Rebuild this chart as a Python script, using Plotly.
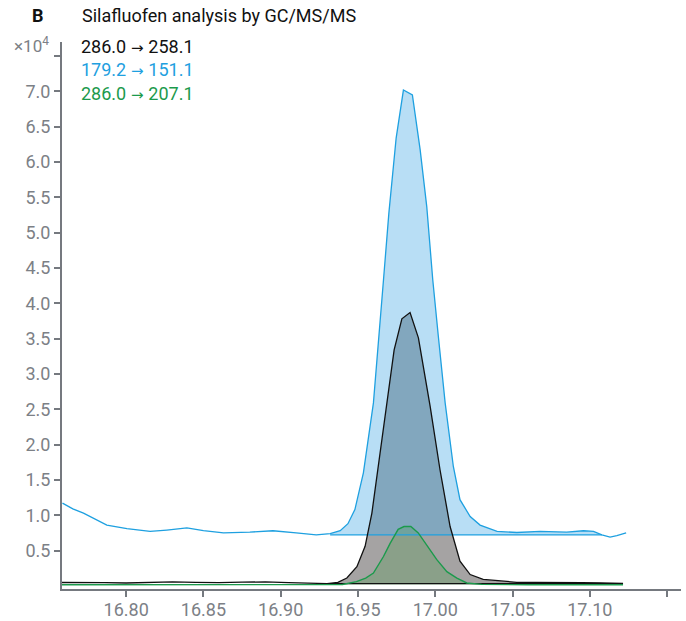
import plotly.graph_objects as go

# Retention time (min) and abundance (x10^4 counts) for each MRM transition
black_t = [16.757, 16.772, 16.786, 16.800, 16.815, 16.830, 16.845, 16.860, 16.875, 16.890,
           16.905, 16.920, 16.930, 16.937, 16.9428, 16.9493, 16.9546, 16.959, 16.9632, 16.9687,
           16.9734, 16.9784, 16.9837, 16.9891, 16.9967, 17.0031, 17.0096, 17.016, 17.0226, 17.031,
           17.042, 17.0528, 17.065, 17.081, 17.095, 17.1067, 17.1215]
black_y = [0.047, 0.050, 0.045, 0.040, 0.050, 0.057, 0.050, 0.045, 0.052, 0.055,
           0.045, 0.035, 0.030, 0.050, 0.11, 0.27, 0.56, 1.03, 1.69, 2.54,
           3.34, 3.78, 3.87, 3.51, 2.54, 1.64, 0.84, 0.35, 0.16, 0.09,
           0.065, 0.050, 0.048, 0.050, 0.045, 0.042, 0.035]

blue_t = [16.7588, 16.7655, 16.7724, 16.780, 16.7875, 16.8005, 16.8155, 16.8263, 16.8393, 16.850,
          16.863, 16.880, 16.895, 16.910, 16.923, 16.932, 16.9385, 16.9435, 16.948, 16.9535,
          16.960, 16.9665, 16.970, 16.9747, 16.9794, 16.9852, 16.9902, 16.9945, 16.9984, 17.002,
          17.0064, 17.0117, 17.016, 17.0226, 17.029, 17.040, 17.0528, 17.0678, 17.085, 17.0959,
          17.1024, 17.1078, 17.1131, 17.1175, 17.1235]
blue_y = [1.17, 1.09, 1.03, 0.94, 0.86, 0.81, 0.77, 0.79, 0.82, 0.78,
          0.75, 0.76, 0.78, 0.75, 0.72, 0.74, 0.78, 0.88, 1.08, 1.60,
          2.59, 4.33, 5.28, 6.34, 7.02, 6.95, 6.18, 5.37, 4.33, 3.53,
          2.59, 1.69, 1.22, 0.98, 0.86, 0.77, 0.755, 0.77, 0.76, 0.78,
          0.77, 0.72, 0.69, 0.71, 0.75]

green_t = [16.757, 16.800, 16.850, 16.900, 16.940, 16.949, 16.955, 16.960, 16.9665, 16.9708,
           16.976, 16.9798, 16.9842, 16.989, 16.9945, 17.001, 17.0075, 17.014, 17.0204, 17.030,
           17.060, 17.100, 17.1215]
green_y = [0.015, 0.015, 0.015, 0.015, 0.018, 0.06, 0.11, 0.18, 0.415, 0.60,
           0.80, 0.84, 0.84, 0.75, 0.58, 0.37, 0.20, 0.11, 0.04, 0.02,
           0.015, 0.015, 0.015]

# Integration windows (start, end, baseline level)
black_int = (16.930, 17.1215, 0.030)
blue_int = (16.932, 17.1078, 0.722)
green_int = (16.940, 17.030, 0.015)

precursor = ["286.0", "179.2", "286.0"]
product = ["258.1", "151.1", "207.1"]
x_ticks = [16.80, 16.85, 16.90, 16.95, 17.00, 17.05, 17.10]
x_minor = [17.15]
y_ticks = [0.5, 1.0, 1.5, 2.0, 2.5, 3.0, 3.5, 4.0, 4.5, 5.0, 5.5, 6.0, 6.5, 7.0]
y_minor = [7.5]

BLACK = "#111111"
BLUE = "#1ea0e0"
GREEN = "#1b9a4c"
AXIS = "#75797f"
TICKTXT = "#7c8086"
FONT = "Roboto"

W, H = 686, 621
ML, MR, MT, MB = 62, 5, 42, 32
PW, PH = W - ML - MR, H - MT - MB


def area(t, y, win):
    t0, t1, base = win
    xs = [a for a in t if t0 <= a <= t1]
    ys = [b for a, b in zip(t, y) if t0 <= a <= t1]
    return xs + [t1, t0], ys + [base, base]


def px(xp):
    return (xp - ML) / PW


def py(yp):
    return (H - MB - yp) / PH


fig = go.Figure()

# Filled integration areas
bx, by = area(black_t, black_y, black_int)
fig.add_trace(go.Scatter(x=bx, y=by, fill="toself", mode="lines", line=dict(width=0),
                         fillcolor="rgb(165,163,163)", hoverinfo="skip", showlegend=False))
ux, uy = area(blue_t, blue_y, blue_int)
fig.add_trace(go.Scatter(x=ux, y=uy, fill="toself", mode="lines", line=dict(width=0),
                         fillcolor="rgba(77,172,230,0.4)", hoverinfo="skip", showlegend=False))
gx, gy = area(green_t, green_y, green_int)
fig.add_trace(go.Scatter(x=gx, y=gy, fill="toself", mode="lines", line=dict(width=0),
                         fillcolor="rgba(60,150,60,0.25)", hoverinfo="skip", showlegend=False))

# Integration baselines
for win, col in [(blue_int, BLUE), (black_int, BLACK)]:
    fig.add_trace(go.Scatter(x=[win[0], win[1]], y=[win[2], win[2]], mode="lines",
                             line=dict(color=col, width=1.3), hoverinfo="skip", showlegend=False))

# Chromatogram traces
fig.add_trace(go.Scatter(x=black_t, y=black_y, mode="lines",
                         line=dict(color=BLACK, width=1.3), showlegend=False))
fig.add_trace(go.Scatter(x=green_t, y=green_y, mode="lines",
                         line=dict(color=GREEN, width=1.4), showlegend=False))
fig.add_trace(go.Scatter(x=blue_t, y=blue_y, mode="lines",
                         line=dict(color=BLUE, width=1.3), showlegend=False))

ARROW = '<span style="font-family:DejaVu Sans;font-size:15px"> \u2192 </span>'

annotations = [
    dict(x=px(30), y=py(16), text="<b>B</b>", font=dict(size=18, color="#111111", family=FONT)),
    dict(x=px(80), y=py(16), text="Silafluofen analysis by GC/MS/MS",
         font=dict(size=18, color="#111111", family=FONT)),
    dict(x=px(12), y=py(45), text="\u00d710<sup>4</sup>", font=dict(size=17, color=TICKTXT, family=FONT)),
]
for pre, prod, col, yy in zip(precursor, product, [BLACK, BLUE, GREEN], [46, 69, 93]):
    annotations.append(dict(x=px(79), y=py(yy), text=pre + ARROW + prod,
                            font=dict(size=18, color=col, family=FONT)))
for a in annotations:
    a.update(xref="paper", yref="paper", xanchor="left", yanchor="middle", showarrow=False)

axis_common = dict(showgrid=False, zeroline=False, automargin=False,
                   showline=True, linecolor=AXIS, linewidth=2,
                   ticks="outside", ticklen=6, tickwidth=2, tickcolor=AXIS,
                   tickfont=dict(size=18, color=TICKTXT, family=FONT))

fig.update_layout(
    width=W, height=H,
    margin=dict(l=ML, r=MR, t=MT, b=MB),
    paper_bgcolor="white", plot_bgcolor="white",
    font=dict(family=FONT),
    annotations=annotations,
    xaxis=dict(range=[16.7585, 17.159], tickvals=x_ticks, tickformat=".2f",
               ticklabelstandoff=-3,
               minor=dict(tickvals=x_minor, ticks="outside", ticklen=6, tickwidth=2,
                          tickcolor=AXIS, showgrid=False),
               **axis_common),
    yaxis=dict(range=[-0.045, 7.7], tickvals=y_ticks, tickformat=".1f",
               minor=dict(tickvals=y_minor, ticks="outside", ticklen=6, tickwidth=2,
                          tickcolor=AXIS, showgrid=False),
               **axis_common),
)

fig.write_html("out.html")
